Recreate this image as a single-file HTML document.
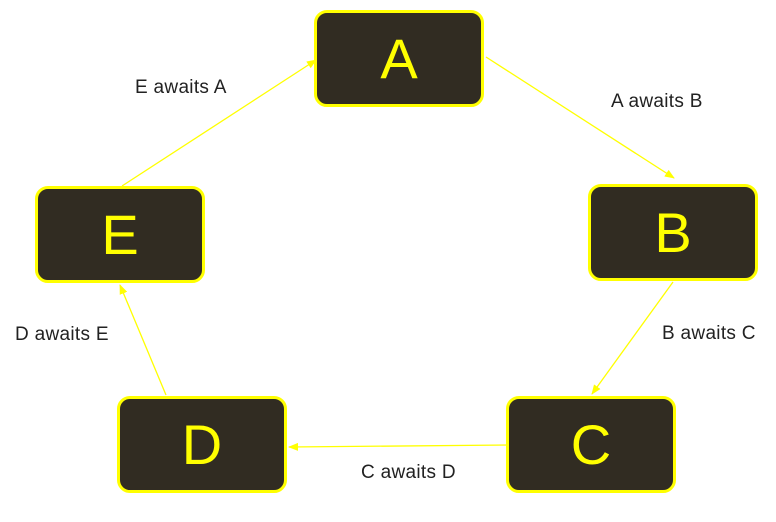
<!DOCTYPE html>
<html><head><style>
body{margin:0;background:#fff;width:776px;height:522px;overflow:hidden;position:relative;font-family:"Liberation Sans",sans-serif}
.b{position:absolute;width:164px;height:91px;background:#312c22;border:3px solid #ffff00;border-radius:13px;color:#ffff00;font-size:56px;display:flex;align-items:center;justify-content:center}
.l{position:absolute;font-size:19px;letter-spacing:0.3px;color:#222;white-space:nowrap}
svg{position:absolute;left:0;top:0}
</style></head><body>
<svg width="776" height="522">
<defs><marker id="m" markerWidth="10" markerHeight="8" refX="9" refY="4" orient="auto" markerUnits="userSpaceOnUse"><path d="M0,0 L10,4 L0,8 z" fill="#ffff00"/></marker></defs>
<g stroke="#ffff00" stroke-width="1.3" fill="none" marker-end="url(#m)">
<line x1="486" y1="57" x2="674" y2="178"/>
<line x1="673" y1="282" x2="592" y2="394"/>
<line x1="510" y1="445" x2="289" y2="447"/>
<line x1="166" y1="395" x2="120" y2="285"/>
<line x1="122" y1="186" x2="316" y2="60"/>
</g></svg>
<div class="b" style="left:314px;top:10px">A</div>
<div class="b" style="left:588px;top:184px">B</div>
<div class="b" style="left:506px;top:396px">C</div>
<div class="b" style="left:117px;top:396px">D</div>
<div class="b" style="left:35px;top:186px">E</div>
<div class="l" style="left:135px;top:77px">E awaits A</div>
<div class="l" style="left:611px;top:91px">A awaits B</div>
<div class="l" style="left:662px;top:323px">B awaits C</div>
<div class="l" style="left:361px;top:462px">C awaits D</div>
<div class="l" style="left:15px;top:324px">D awaits E</div>
</body></html>
